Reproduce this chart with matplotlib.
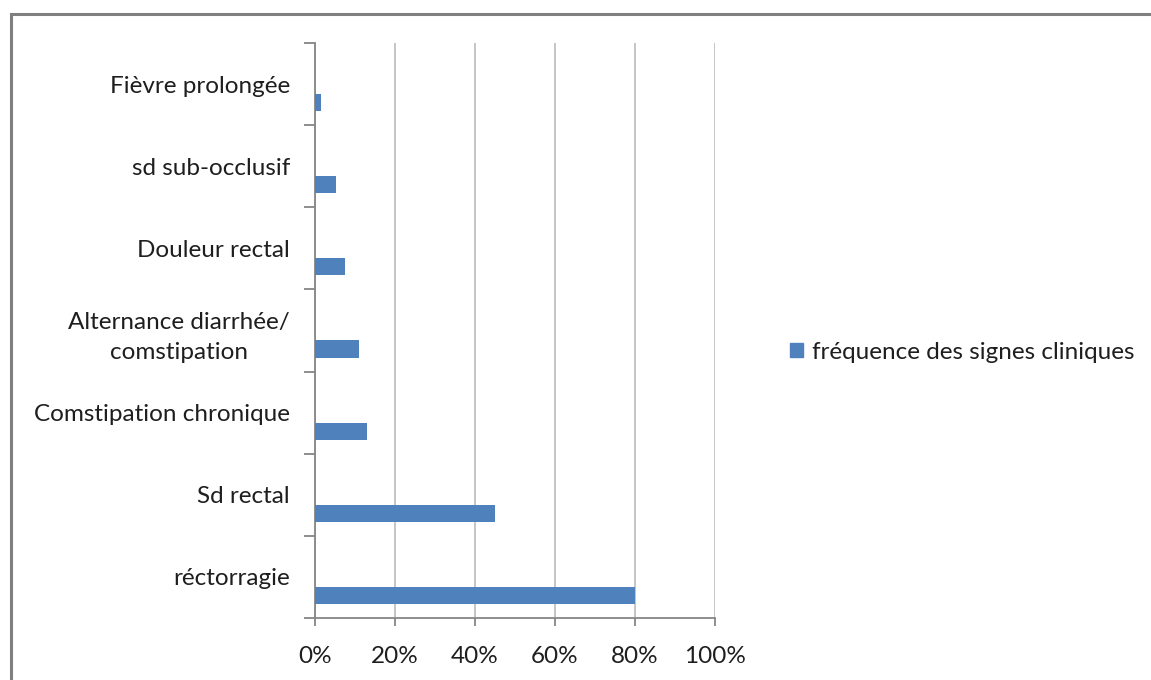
import matplotlib
matplotlib.use("Agg")
import matplotlib.pyplot as plt
from matplotlib.patches import Patch, Rectangle
from matplotlib.ticker import FuncFormatter, FixedLocator

plt.rcParams["font.family"] = ["Lato", "DejaVu Sans"]

# clinical signs, bottom to top
signs = [
    "réctorragie",
    "Sd rectal",
    "Comstipation chronique",
    "Alternance diarrhée/\ncomstipation",
    "Douleur rectal",
    "sd sub-occlusif",
    "Fièvre prolongée",
]
frequency = [0.80, 0.45, 0.13, 0.11, 0.076, 0.052, 0.016]
x_ticks = [0.0, 0.2, 0.4, 0.6, 0.8, 1.0]
series_name = "fréquence des signes cliniques"

BAR_COLOR = "#4f81bd"
AXIS_COLOR = "#868686"
GRID_COLOR = "#c0c0c0"
TEXT_COLOR = "#1e1e1e"
FONT_SIZE = 17.5

fig = plt.figure(figsize=(11.51, 6.80), dpi=100)
ax = fig.add_axes([315 / 1151, 62 / 680, 400 / 1151, 575 / 680])

pos = list(range(len(signs)))
bar_pos = [p - 0.225 for p in pos]
ax.barh(bar_pos, frequency, height=0.21, color=BAR_COLOR, zorder=3,
        label=series_name)

ax.set_xlim(0, 1.0)
ax.set_ylim(-0.5, len(signs) - 0.5)
ax.xaxis.set_major_locator(FixedLocator(x_ticks))
ax.xaxis.set_major_formatter(FuncFormatter(lambda v, _: f"{v * 100:.0f}%"))
ax.grid(axis="x", color=GRID_COLOR, linewidth=1.3, zorder=0)

# category labels at band centres, tick marks at band boundaries
ax.set_yticks(pos)
ax.set_yticklabels(signs, multialignment="center", linespacing=1.55)
ax.set_yticks([p - 0.5 for p in pos] + [len(signs) - 0.5], minor=True)
ax.tick_params(axis="y", which="major", length=0, pad=18,
               labelsize=FONT_SIZE, labelcolor=TEXT_COLOR)
ax.tick_params(axis="y", which="minor", length=8, width=1.3, color=AXIS_COLOR)
ax.tick_params(axis="x", length=6, width=1.3, color=AXIS_COLOR, pad=14,
               labelsize=FONT_SIZE, labelcolor=TEXT_COLOR)

for side in ("top", "right"):
    ax.spines[side].set_visible(False)
for side in ("left", "bottom"):
    ax.spines[side].set_color(AXIS_COLOR)
    ax.spines[side].set_linewidth(1.3)

fig.legend(handles=[Patch(color=BAR_COLOR, label=series_name)],
           loc="center left", bbox_to_anchor=(773 / 1151, 1 - 352 / 680),
           frameon=False, fontsize=FONT_SIZE, handlelength=0.55,
           handleheight=0.55, handletextpad=0.35, borderpad=0.2,
           labelcolor=TEXT_COLOR)

# outer chart border, cut off at the right and bottom
fig.patches.append(Rectangle((11 / 1151, -0.05), 1.2, 1.05 - 14 / 680,
                             transform=fig.transFigure, fill=False,
                             edgecolor="#7f7f7f", linewidth=2.2))

fig.savefig("out.png", dpi=100)
